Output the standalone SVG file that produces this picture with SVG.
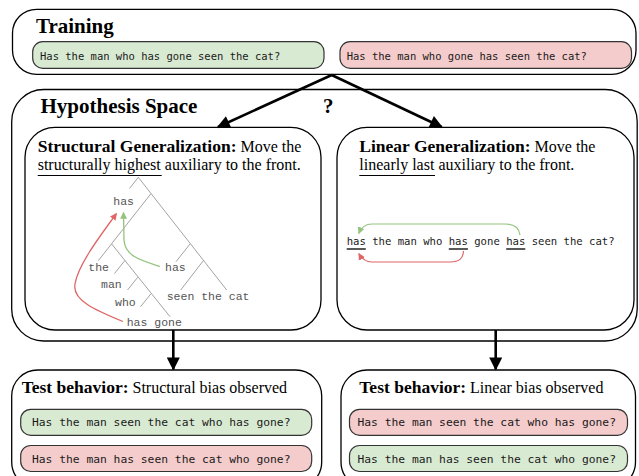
<svg xmlns="http://www.w3.org/2000/svg" width="639" height="476" viewBox="0 0 639 476">
<style>
.box{fill:#fff;stroke:#000;stroke-width:1.3}
.pg{fill:#d9ead3;stroke:#333;stroke-width:1.2}
.pr{fill:#f4cccc;stroke:#333;stroke-width:1.2}
.mono{font-family:"DejaVu Sans Mono","Liberation Mono",monospace;fill:#1a1a1a}
.h{font-family:"Liberation Serif","Times New Roman",serif;font-weight:bold;fill:#000}
.r{font-family:"Liberation Serif","Times New Roman",serif;fill:#000}
.tree{stroke:#8a8a8a;stroke-width:0.8;fill:none}
.tl{font-family:"Liberation Mono","Courier New",monospace;font-size:11.5px;fill:#555}
.big{stroke:#000;stroke-width:2.6;fill:none}
</style>
<defs>
<marker id="ah" viewBox="0 0 10 10" refX="9" refY="5" markerUnits="userSpaceOnUse" markerWidth="15" markerHeight="13" orient="auto"><path d="M0,0 L10,5 L0,10 z" fill="#000"/></marker>
<marker id="ag" viewBox="0 0 10 10" refX="9" refY="5" markerUnits="userSpaceOnUse" markerWidth="7" markerHeight="7" orient="auto"><path d="M0,0 L10,5 L0,10 z" fill="#93c47d"/></marker>
<marker id="ar" viewBox="0 0 10 10" refX="9" refY="5" markerUnits="userSpaceOnUse" markerWidth="7" markerHeight="7" orient="auto"><path d="M0,0 L10,5 L0,10 z" fill="#e06666"/></marker>
</defs>

<g id="training">
<rect class="box" x="12.5" y="9.3" width="623.5" height="65" rx="24"/>
<text class="h" x="36" y="33" font-size="21">Training</text>
<rect class="pg" x="32.7" y="41.7" width="291.3" height="26.6" rx="10"/>
<text class="mono" x="40" y="59.5" font-size="10.5">Has the man who has gone seen the cat?</text>
<rect class="pr" x="340" y="41.7" width="291.5" height="26.6" rx="10"/>
<text class="mono" x="346.7" y="59.5" font-size="10.5">Has the man who gone has seen the cat?</text>
</g>

<g id="hypothesis">
<rect class="box" x="11.7" y="89.5" width="625.5" height="251.5" rx="32"/>
<text class="h" x="40.5" y="113" font-size="21">Hypothesis Space</text>
<text class="h" x="323" y="113" font-size="21">?</text>
</g>

<g id="structural">
<rect class="box" x="25" y="127.3" width="296" height="202.7" rx="30"/>
<text x="37.7" y="151.7"><tspan class="h" font-size="17.5">Structural Generalization:</tspan><tspan class="r" font-size="16"> Move the</tspan></text>
<text class="r" x="37.7" y="170" font-size="16">structurally highest auxiliary to the front.</text>
<line x1="37.7" y1="175.5" x2="161.7" y2="175.5" stroke="#000" stroke-width="1.2"/>
<g class="tree">
<path d="M138.3 177.3 L129.5 188.5"/>
<path d="M138.3 177.3 L226.7 290"/>
<path d="M150.7 194 L98.3 260.7"/>
<path d="M111.7 244 L170 316.7"/>
<path d="M124.7 260.7 L114.5 273.5"/>
<path d="M137.7 277.3 L127.5 290"/>
<path d="M150.8 294 L140.5 306.7"/>
<path d="M190 244 L176 261.7"/>
<path d="M203.3 260.7 L180.7 290"/>
</g>
<text class="tl" x="113.3" y="204.5">has</text>
<text class="tl" x="88.3" y="270.5">the</text>
<text class="tl" x="165" y="270.5">has</text>
<text class="tl" x="101" y="288">man</text>
<text class="tl" x="166.7" y="300">seen the cat</text>
<text class="tl" x="115" y="305.7">who</text>
<text class="tl" x="126.7" y="326">has gone</text>
<path d="M123 321.5 C95 310,72 300,75 284 C78 265,100 236,116.5 213.5" fill="none" stroke="#e06666" stroke-width="1.3" marker-end="url(#ar)"/>
<path d="M160 266.5 C140 260,125 256,124 240 L123.5 212.5" fill="none" stroke="#93c47d" stroke-width="1.3" marker-end="url(#ag)"/>
</g>

<g id="linear">
<rect class="box" x="337" y="127.3" width="297" height="202.7" rx="30"/>
<text x="359.3" y="151.7"><tspan class="h" font-size="17.5">Linear Generalization:</tspan><tspan class="r" font-size="16"> Move the</tspan></text>
<text class="r" x="359.3" y="170" font-size="16">linearly last auxiliary to the front.</text>
<line x1="359.3" y1="175.5" x2="435" y2="175.5" stroke="#000" stroke-width="1.2"/>
<text class="mono" x="346.7" y="245" font-size="10.6">has the man who has gone has seen the cat?</text>
<g stroke="#000" stroke-width="1.3">
<line x1="346.7" y1="249" x2="365.8" y2="249"/>
<line x1="448.8" y1="249" x2="467.9" y2="249"/>
<line x1="506.2" y1="249" x2="525.3" y2="249"/>
</g>
<path d="M520 235 C519 227,514 224,505 224 L372 224 C365 224,361 228,358.8 233.5" fill="none" stroke="#93c47d" stroke-width="1.2" marker-end="url(#ag)"/>
<path d="M463.5 251 C463 258,460 262,450 262 L372 262 C366 262,362 259,358.8 253.5" fill="none" stroke="#e06666" stroke-width="1.2" marker-end="url(#ar)"/>
</g>

<g id="test-structural">
<rect class="box" x="11.7" y="370" width="310" height="118" rx="26"/>
<text x="21.7" y="393.3"><tspan class="h" font-size="17.5">Test behavior:</tspan><tspan class="r" font-size="16"> Structural bias observed</tspan></text>
<rect class="pg" x="20.7" y="409.3" width="291" height="26" rx="10"/>
<text class="mono" x="32" y="426.3" font-size="11.3">Has the man seen the cat who has gone?</text>
<rect class="pr" x="20.7" y="445.5" width="291" height="26" rx="10"/>
<text class="mono" x="32" y="462.5" font-size="11.3">Has the man has seen the cat who gone?</text>
</g>

<g id="test-linear">
<rect class="box" x="341" y="370" width="294.5" height="118" rx="26"/>
<text x="359.3" y="393.3"><tspan class="h" font-size="17.5">Test behavior:</tspan><tspan class="r" font-size="16"> Linear bias observed</tspan></text>
<rect class="pr" x="349.5" y="409.3" width="278" height="26" rx="10"/>
<text class="mono" x="357.5" y="426.3" font-size="11.3">Has the man seen the cat who has gone?</text>
<rect class="pg" x="349.5" y="445.5" width="278" height="26" rx="10"/>
<text class="mono" x="357.5" y="462.5" font-size="11.3">Has the man has seen the cat who gone?</text>
</g>

<g id="connectors">
<line class="big" x1="331.7" y1="75" x2="218" y2="127" marker-end="url(#ah)"/>
<line class="big" x1="331.7" y1="75" x2="441.7" y2="127" marker-end="url(#ah)"/>
<line class="big" x1="173.3" y1="330" x2="173.3" y2="369.3" marker-end="url(#ah)"/>
<line class="big" x1="495.7" y1="330" x2="495.7" y2="369.3" marker-end="url(#ah)"/>
</g>
</svg>
